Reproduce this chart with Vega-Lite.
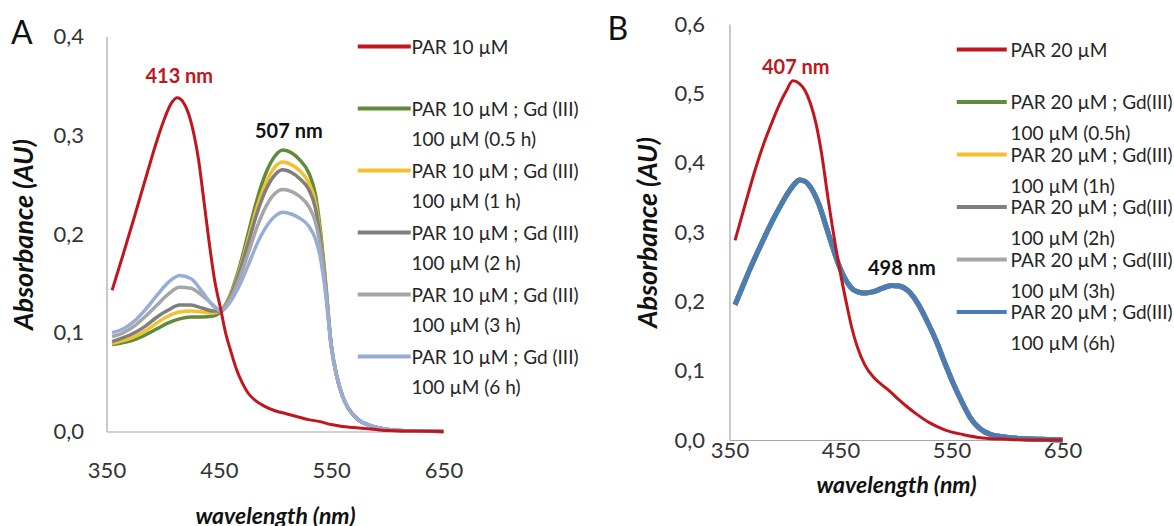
{
  "$schema": "https://vega.github.io/schema/vega-lite/v6.json",
  "background": "white",
  "padding": {"left": 9.5, "top": 13, "right": 0, "bottom": 0},
  "title": {"text": "A", "anchor": "start", "frame": "bounds", "fontSize": 32, "fontWeight": "normal", "color": "#111111", "font": "Lato", "offset": 0, "dx": 0.5, "dy": 37.5},
  "datasets": {
    "names": [
      {"k": "pA", "s": "PAR 10 µM"},
      {"k": "a05", "s": "PAR 10 µM ; Gd (III) 100 µM (0.5 h)"},
      {"k": "a1", "s": "PAR 10 µM ; Gd (III) 100 µM (1 h)"},
      {"k": "a2", "s": "PAR 10 µM ; Gd (III) 100 µM (2 h)"},
      {"k": "a3", "s": "PAR 10 µM ; Gd (III) 100 µM (3 h)"},
      {"k": "a6", "s": "PAR 10 µM ; Gd (III) 100 µM (6 h)"},
      {"k": "pB", "s": "PAR 20 µM"},
      {"k": "b05", "s": "PAR 20 µM ; Gd(III) 100 µM (0.5h)"},
      {"k": "b1", "s": "PAR 20 µM ; Gd(III) 100 µM (1h)"},
      {"k": "b2", "s": "PAR 20 µM ; Gd(III) 100 µM (2h)"},
      {"k": "b3", "s": "PAR 20 µM ; Gd(III) 100 µM (3h)"},
      {"k": "b6", "s": "PAR 20 µM ; Gd(III) 100 µM (6h)"}
    ],
    "specA": [
      {"w": 355, "a05": 0.088, "a1": 0.089, "a2": 0.091, "a3": 0.096, "a6": 0.100},
      {"w": 365, "a05": 0.090, "a1": 0.092, "a2": 0.095, "a3": 0.100, "a6": 0.104},
      {"w": 375, "a05": 0.093, "a1": 0.096, "a2": 0.100, "a3": 0.107, "a6": 0.112},
      {"w": 385, "a05": 0.098, "a1": 0.102, "a2": 0.107, "a3": 0.117, "a6": 0.124},
      {"w": 395, "a05": 0.104, "a1": 0.110, "a2": 0.116, "a3": 0.128, "a6": 0.138},
      {"w": 405, "a05": 0.110, "a1": 0.117, "a2": 0.123, "a3": 0.139, "a6": 0.151},
      {"w": 415, "a05": 0.114, "a1": 0.121, "a2": 0.128, "a3": 0.146, "a6": 0.158},
      {"w": 425, "a05": 0.116, "a1": 0.122, "a2": 0.128, "a3": 0.145, "a6": 0.155},
      {"w": 435, "a05": 0.116, "a1": 0.121, "a2": 0.125, "a3": 0.138, "a6": 0.142},
      {"w": 445, "a05": 0.117, "a1": 0.120, "a2": 0.122, "a3": 0.128, "a6": 0.127},
      {"w": 452, "a05": 0.122, "a1": 0.122, "a2": 0.122, "a3": 0.122, "a6": 0.122},
      {"w": 460, "a05": 0.138, "a1": 0.137, "a2": 0.136, "a3": 0.134, "a6": 0.131},
      {"w": 468, "a05": 0.165, "a1": 0.162, "a2": 0.160, "a3": 0.154, "a6": 0.147},
      {"w": 476, "a05": 0.200, "a1": 0.194, "a2": 0.190, "a3": 0.180, "a6": 0.168},
      {"w": 484, "a05": 0.235, "a1": 0.227, "a2": 0.221, "a3": 0.207, "a6": 0.190},
      {"w": 492, "a05": 0.262, "a1": 0.252, "a2": 0.245, "a3": 0.228, "a6": 0.207},
      {"w": 500, "a05": 0.279, "a1": 0.268, "a2": 0.260, "a3": 0.241, "a6": 0.218},
      {"w": 507, "a05": 0.285, "a1": 0.273, "a2": 0.265, "a3": 0.245, "a6": 0.222},
      {"w": 515, "a05": 0.282, "a1": 0.270, "a2": 0.262, "a3": 0.243, "a6": 0.220},
      {"w": 522, "a05": 0.275, "a1": 0.264, "a2": 0.256, "a3": 0.238, "a6": 0.216},
      {"w": 530, "a05": 0.262, "a1": 0.252, "a2": 0.245, "a3": 0.228, "a6": 0.208},
      {"w": 536, "a05": 0.240, "a1": 0.232, "a2": 0.226, "a3": 0.212, "a6": 0.195},
      {"w": 540, "a05": 0.208, "a1": 0.202, "a2": 0.198, "a3": 0.190, "a6": 0.178},
      {"w": 545, "a05": 0.152, "a1": 0.150, "a2": 0.148, "a3": 0.145, "a6": 0.140},
      {"w": 550, "a05": 0.088, "a1": 0.088, "a2": 0.088, "a3": 0.087, "a6": 0.086},
      {"w": 555, "a05": 0.056, "a1": 0.056, "a2": 0.056, "a3": 0.056, "a6": 0.056},
      {"w": 560, "a05": 0.036, "a1": 0.036, "a2": 0.036, "a3": 0.036, "a6": 0.036},
      {"w": 565, "a05": 0.024, "a1": 0.024, "a2": 0.024, "a3": 0.024, "a6": 0.024},
      {"w": 574, "a05": 0.012, "a1": 0.012, "a2": 0.012, "a3": 0.012, "a6": 0.012},
      {"w": 585, "a05": 0.006, "a1": 0.006, "a2": 0.006, "a3": 0.006, "a6": 0.006},
      {"w": 595, "a05": 0.003, "a1": 0.003, "a2": 0.003, "a3": 0.003, "a6": 0.003},
      {"w": 610, "a05": 0.001, "a1": 0.001, "a2": 0.001, "a3": 0.001, "a6": 0.001},
      {"w": 630, "a05": 0.0005, "a1": 0.0005, "a2": 0.0005, "a3": 0.0005, "a6": 0.0005},
      {"w": 650, "a05": 0, "a1": 0, "a2": 0, "a3": 0, "a6": 0},
      {"w": 355, "pA": 0.143}, {"w": 365, "pA": 0.180}, {"w": 375, "pA": 0.218},
      {"w": 385, "pA": 0.257}, {"w": 395, "pA": 0.295}, {"w": 402, "pA": 0.318},
      {"w": 408, "pA": 0.333}, {"w": 413, "pA": 0.338}, {"w": 418, "pA": 0.334},
      {"w": 423, "pA": 0.322}, {"w": 428, "pA": 0.300}, {"w": 432, "pA": 0.275},
      {"w": 436, "pA": 0.240}, {"w": 441, "pA": 0.195}, {"w": 446, "pA": 0.155},
      {"w": 452, "pA": 0.122}, {"w": 456, "pA": 0.100}, {"w": 461, "pA": 0.080},
      {"w": 466, "pA": 0.062}, {"w": 471, "pA": 0.049}, {"w": 476, "pA": 0.039},
      {"w": 483, "pA": 0.031}, {"w": 490, "pA": 0.026}, {"w": 500, "pA": 0.021},
      {"w": 510, "pA": 0.018}, {"w": 520, "pA": 0.015}, {"w": 530, "pA": 0.012},
      {"w": 540, "pA": 0.010}, {"w": 550, "pA": 0.007}, {"w": 560, "pA": 0.005},
      {"w": 570, "pA": 0.004}, {"w": 580, "pA": 0.003}, {"w": 590, "pA": 0.002},
      {"w": 600, "pA": 0.001}, {"w": 620, "pA": 0.0005}, {"w": 650, "pA": 0}
    ],
    "specB": [
      {"w": 355, "b05": 0.195, "b1": 0.195, "b2": 0.195, "b3": 0.195, "b6": 0.195},
      {"w": 362, "b05": 0.222, "b1": 0.222, "b2": 0.222, "b3": 0.222, "b6": 0.222},
      {"w": 368, "b05": 0.245, "b1": 0.245, "b2": 0.245, "b3": 0.245, "b6": 0.245},
      {"w": 375, "b05": 0.270, "b1": 0.270, "b2": 0.270, "b3": 0.270, "b6": 0.270},
      {"w": 382, "b05": 0.294, "b1": 0.294, "b2": 0.294, "b3": 0.294, "b6": 0.294},
      {"w": 389, "b05": 0.317, "b1": 0.317, "b2": 0.317, "b3": 0.317, "b6": 0.317},
      {"w": 396, "b05": 0.338, "b1": 0.338, "b2": 0.338, "b3": 0.338, "b6": 0.338},
      {"w": 403, "b05": 0.357, "b1": 0.357, "b2": 0.357, "b3": 0.357, "b6": 0.357},
      {"w": 409, "b05": 0.370, "b1": 0.370, "b2": 0.370, "b3": 0.370, "b6": 0.370},
      {"w": 413, "b05": 0.375, "b1": 0.375, "b2": 0.375, "b3": 0.375, "b6": 0.375},
      {"w": 418, "b05": 0.373, "b1": 0.373, "b2": 0.373, "b3": 0.373, "b6": 0.373},
      {"w": 424, "b05": 0.362, "b1": 0.362, "b2": 0.362, "b3": 0.362, "b6": 0.362},
      {"w": 431, "b05": 0.338, "b1": 0.338, "b2": 0.338, "b3": 0.338, "b6": 0.338},
      {"w": 437, "b05": 0.308, "b1": 0.308, "b2": 0.308, "b3": 0.308, "b6": 0.308},
      {"w": 443, "b05": 0.278, "b1": 0.278, "b2": 0.278, "b3": 0.278, "b6": 0.278},
      {"w": 449, "b05": 0.250, "b1": 0.250, "b2": 0.250, "b3": 0.250, "b6": 0.250},
      {"w": 455, "b05": 0.230, "b1": 0.230, "b2": 0.230, "b3": 0.230, "b6": 0.230},
      {"w": 460, "b05": 0.219, "b1": 0.219, "b2": 0.219, "b3": 0.219, "b6": 0.219},
      {"w": 465, "b05": 0.214, "b1": 0.214, "b2": 0.214, "b3": 0.214, "b6": 0.214},
      {"w": 472, "b05": 0.212, "b1": 0.212, "b2": 0.212, "b3": 0.212, "b6": 0.212},
      {"w": 480, "b05": 0.214, "b1": 0.214, "b2": 0.214, "b3": 0.214, "b6": 0.214},
      {"w": 488, "b05": 0.219, "b1": 0.219, "b2": 0.219, "b3": 0.219, "b6": 0.219},
      {"w": 496, "b05": 0.223, "b1": 0.223, "b2": 0.223, "b3": 0.223, "b6": 0.223},
      {"w": 503, "b05": 0.222, "b1": 0.222, "b2": 0.222, "b3": 0.222, "b6": 0.222},
      {"w": 511, "b05": 0.215, "b1": 0.215, "b2": 0.215, "b3": 0.215, "b6": 0.215},
      {"w": 520, "b05": 0.196, "b1": 0.196, "b2": 0.196, "b3": 0.196, "b6": 0.196},
      {"w": 529, "b05": 0.168, "b1": 0.168, "b2": 0.168, "b3": 0.168, "b6": 0.168},
      {"w": 537, "b05": 0.140, "b1": 0.140, "b2": 0.140, "b3": 0.140, "b6": 0.140},
      {"w": 544, "b05": 0.111, "b1": 0.111, "b2": 0.111, "b3": 0.111, "b6": 0.111},
      {"w": 552, "b05": 0.080, "b1": 0.080, "b2": 0.080, "b3": 0.080, "b6": 0.080},
      {"w": 560, "b05": 0.053, "b1": 0.053, "b2": 0.053, "b3": 0.053, "b6": 0.053},
      {"w": 567, "b05": 0.032, "b1": 0.032, "b2": 0.032, "b3": 0.032, "b6": 0.032},
      {"w": 575, "b05": 0.017, "b1": 0.017, "b2": 0.017, "b3": 0.017, "b6": 0.017},
      {"w": 585, "b05": 0.008, "b1": 0.008, "b2": 0.008, "b3": 0.008, "b6": 0.008},
      {"w": 599, "b05": 0.004, "b1": 0.004, "b2": 0.004, "b3": 0.004, "b6": 0.004},
      {"w": 615, "b05": 0.002, "b1": 0.002, "b2": 0.002, "b3": 0.002, "b6": 0.002},
      {"w": 630, "b05": 0.001, "b1": 0.001, "b2": 0.001, "b3": 0.001, "b6": 0.001},
      {"w": 650, "b05": 0, "b1": 0, "b2": 0, "b3": 0, "b6": 0},
      {"w": 355, "pB": 0.288}, {"w": 365, "pB": 0.345}, {"w": 373, "pB": 0.389},
      {"w": 381, "pB": 0.428}, {"w": 389, "pB": 0.461}, {"w": 395, "pB": 0.484},
      {"w": 401, "pB": 0.503}, {"w": 407, "pB": 0.518}, {"w": 413, "pB": 0.514},
      {"w": 418, "pB": 0.504}, {"w": 423, "pB": 0.485}, {"w": 428, "pB": 0.456},
      {"w": 433, "pB": 0.413}, {"w": 439, "pB": 0.346}, {"w": 445, "pB": 0.285},
      {"w": 450, "pB": 0.240}, {"w": 455, "pB": 0.200}, {"w": 460, "pB": 0.163},
      {"w": 465, "pB": 0.135}, {"w": 472, "pB": 0.108}, {"w": 480, "pB": 0.090},
      {"w": 487, "pB": 0.080}, {"w": 494, "pB": 0.071}, {"w": 502, "pB": 0.059},
      {"w": 510, "pB": 0.048}, {"w": 518, "pB": 0.038}, {"w": 530, "pB": 0.025},
      {"w": 545, "pB": 0.014}, {"w": 560, "pB": 0.008}, {"w": 578, "pB": 0.003},
      {"w": 600, "pB": 0.001}, {"w": 620, "pB": 0}, {"w": 650, "pB": 0}
    ],
    "peaks": [
      {"k": "pA", "w": 413, "a": 0.338, "label": "413 nm"},
      {"k": "a05", "w": 507, "a": 0.285, "label": "507 nm"},
      {"k": "pB", "w": 407, "a": 0.518, "label": "407 nm"},
      {"k": "b6", "w": 498, "a": 0.223, "label": "498 nm"}
    ]
  },
  "hconcat": [
    {"vconcat": [
    {
      "width": 337,
      "height": 1,
      "data": {"values": []},
      "mark": "point",
      "encoding": {}
    },
    {
      "width": 337,
      "height": 395,
      "layer": [
        {
          "data": {"name": "specA"},
          "transform": [
            {"fold": ["a05", "a1", "a2", "a3", "a6"], "as": ["k", "a"]},
            {"filter": "isValid(datum.a)"},
            {"lookup": "k", "from": {"data": {"name": "names"}, "key": "k", "fields": ["s"]}}
          ],
          "mark": {"type": "line", "strokeWidth": 3.5, "interpolate": "monotone"},
          "encoding": {
            "x": {"field": "w", "type": "quantitative", "title": "wavelength (nm)",
                  "scale": {"domain": [350, 650], "nice": false},
                  "axis": {"values": [350, 450, 550, 650], "labelPadding": 29, "titlePadding": 24}},
            "y": {"field": "a", "type": "quantitative", "title": "Absorbance (AU)",
                  "scale": {"domain": [0, 0.4], "nice": false},
                  "axis": {"values": [0, 0.1, 0.2, 0.3, 0.4], "labelExpr": "replace(format(datum.value, '.1f'), '.', ',')", "labelPadding": 23, "titlePadding": 14.5}},
            "color": {"field": "s", "type": "nominal",
              "scale": {"domain": ["PAR 10 µM", "PAR 10 µM ; Gd (III) 100 µM (0.5 h)", "PAR 10 µM ; Gd (III) 100 µM (1 h)", "PAR 10 µM ; Gd (III) 100 µM (2 h)", "PAR 10 µM ; Gd (III) 100 µM (3 h)", "PAR 10 µM ; Gd (III) 100 µM (6 h)"],
                        "range": ["#C0161E", "#5F8B3A", "#F2C12E", "#7F7F7F", "#A6A6A6", "#98ADD6"]},
              "legend": {"title": null, "orient": "none", "legendX": 249, "legendY": 7,
                "symbolType": "M-1,0L3,0", "symbolSize": 702.25, "symbolStrokeWidth": 4,
                "labelFont": "Lato", "labelFontSize": 19, "labelColor": "#262626", "labelLimit": 0,
                "labelBaseline": "top", "labelOffset": 25, "rowPadding": 5,
                "labelExpr": "indexof(datum.label, ') ') > 0 ? [substring(datum.label, 0, indexof(datum.label, ') ') + 1), substring(datum.label, indexof(datum.label, ') ') + 2)] : [datum.label, '']",
                "encoding": {"labels": {"dy": {"value": -8}, "lineHeight": {"value": 30}}}}
            }
          }
        },
        {
          "data": {"name": "specA"},
          "transform": [
            {"fold": ["pA"], "as": ["k", "a"]},
            {"filter": "isValid(datum.a)"},
            {"lookup": "k", "from": {"data": {"name": "names"}, "key": "k", "fields": ["s"]}}
          ],
          "mark": {"type": "line", "strokeWidth": 3, "interpolate": "monotone"},
          "encoding": {
            "x": {"field": "w", "type": "quantitative"},
            "y": {"field": "a", "type": "quantitative"},
            "color": {"field": "s", "type": "nominal"}
          }
        },
        {
          "data": {"name": "peaks"},
          "transform": [{"filter": "datum.k === 'pA'"}],
          "mark": {"type": "text", "font": "Lato", "fontWeight": "bold", "fontSize": 20, "color": "#C0161E", "dx": 2, "dy": -21},
          "encoding": {
            "x": {"field": "w", "type": "quantitative"},
            "y": {"field": "a", "type": "quantitative"},
            "text": {"field": "label"}
          }
        },
        {
          "data": {"name": "peaks"},
          "transform": [{"filter": "datum.k === 'a05'"}],
          "mark": {"type": "text", "font": "Lato", "fontWeight": "bold", "fontSize": 20, "color": "#111111", "dx": 6, "dy": -18},
          "encoding": {
            "x": {"field": "w", "type": "quantitative"},
            "y": {"field": "a", "type": "quantitative"},
            "text": {"field": "label"}
          }
        }
      ]
    }], "spacing": 0.5},
    {
      "width": 333,
      "height": 416,
      "title": {"text": "B", "anchor": "start", "frame": "bounds", "fontSize": 32, "fontWeight": "normal", "color": "#111111", "offset": 0, "dx": -27, "dy": 34},
      "layer": [
        {
          "data": {"name": "specB"},
          "transform": [
            {"fold": ["b05", "b1", "b2", "b3", "b6"], "as": ["k", "a"]},
            {"filter": "isValid(datum.a)"},
            {"lookup": "k", "from": {"data": {"name": "names"}, "key": "k", "fields": ["s"]}}
          ],
          "mark": {"type": "line", "strokeWidth": 5, "interpolate": "monotone"},
          "encoding": {
            "x": {"field": "w", "type": "quantitative", "title": "wavelength (nm)",
                  "scale": {"domain": [350, 650], "nice": false},
                  "axis": {"values": [350, 450, 550, 650], "labelPadding": 0, "titlePadding": 13}},
            "y": {"field": "a", "type": "quantitative", "title": "Absorbance (AU)",
                  "scale": {"domain": [0, 0.6], "nice": false},
                  "axis": {"values": [0, 0.1, 0.2, 0.3, 0.4, 0.5, 0.6], "labelExpr": "replace(format(datum.value, '.1f'), '.', ',')", "labelPadding": 25, "titlePadding": 11.5}},
            "color": {"field": "s", "type": "nominal",
              "scale": {"domain": ["PAR 20 µM", "PAR 20 µM ; Gd(III) 100 µM (0.5h)", "PAR 20 µM ; Gd(III) 100 µM (1h)", "PAR 20 µM ; Gd(III) 100 µM (2h)", "PAR 20 µM ; Gd(III) 100 µM (3h)", "PAR 20 µM ; Gd(III) 100 µM (6h)"],
                        "range": ["#C0161E", "#5F8B3A", "#F2C12E", "#7F7F7F", "#A6A6A6", "#4A7DB1"]},
              "legend": {"title": null, "orient": "none", "legendX": 224, "legendY": 16,
                "symbolType": "M-1,0L7,0", "symbolSize": 156.25, "symbolStrokeWidth": 4,
                "labelFont": "Lato", "labelFontSize": 19, "labelColor": "#262626", "labelLimit": 0,
                "labelBaseline": "top", "labelOffset": 38, "rowPadding": 0.5,
                "labelExpr": "indexof(datum.label, ') ') > 0 ? [substring(datum.label, 0, indexof(datum.label, ') ') + 1), substring(datum.label, indexof(datum.label, ') ') + 2)] : [datum.label, '']",
                "encoding": {"labels": {"dy": {"value": -8}, "lineHeight": {"value": 31}}}}
            }
          }
        },
        {
          "data": {"name": "specB"},
          "transform": [
            {"fold": ["pB"], "as": ["k", "a"]},
            {"filter": "isValid(datum.a)"},
            {"lookup": "k", "from": {"data": {"name": "names"}, "key": "k", "fields": ["s"]}}
          ],
          "mark": {"type": "line", "strokeWidth": 3, "interpolate": "monotone"},
          "encoding": {
            "x": {"field": "w", "type": "quantitative"},
            "y": {"field": "a", "type": "quantitative"},
            "color": {"field": "s", "type": "nominal"}
          }
        },
        {
          "data": {"name": "peaks"},
          "transform": [{"filter": "datum.k === 'pB'"}],
          "mark": {"type": "text", "font": "Lato", "fontWeight": "bold", "fontSize": 20, "color": "#C0161E", "dx": 3, "dy": -13},
          "encoding": {
            "x": {"field": "w", "type": "quantitative"},
            "y": {"field": "a", "type": "quantitative"},
            "text": {"field": "label"}
          }
        },
        {
          "data": {"name": "peaks"},
          "transform": [{"filter": "datum.k === 'b6'"}],
          "mark": {"type": "text", "font": "Lato", "fontWeight": "bold", "fontSize": 20, "color": "#111111", "dx": 8, "dy": -16},
          "encoding": {
            "x": {"field": "w", "type": "quantitative"},
            "y": {"field": "a", "type": "quantitative"},
            "text": {"field": "label"}
          }
        }
      ]
    }
  ],
  "spacing": 27,
  "resolve": {"scale": {"color": "independent", "x": "independent", "y": "independent"}, "legend": {"color": "independent"}},
  "config": {
    "view": {"stroke": null},
    "font": "Lato",
    "title": {"font": "Lato"},
    "axis": {"grid": false, "ticks": false, "domainColor": "#A6A6A6", "domainWidth": 1.2, "labelFont": "Lato", "labelFontSize": 22, "labelColor": "#333333", "labelFlush": false, "labelOverlap": false, "titleFont": "Lato", "titleFontWeight": "bold", "titleFontStyle": "italic", "titleColor": "#111111"},
    "axisX": {"titleFontSize": 23},
    "axisY": {"titleFontSize": 27}
  }
}
